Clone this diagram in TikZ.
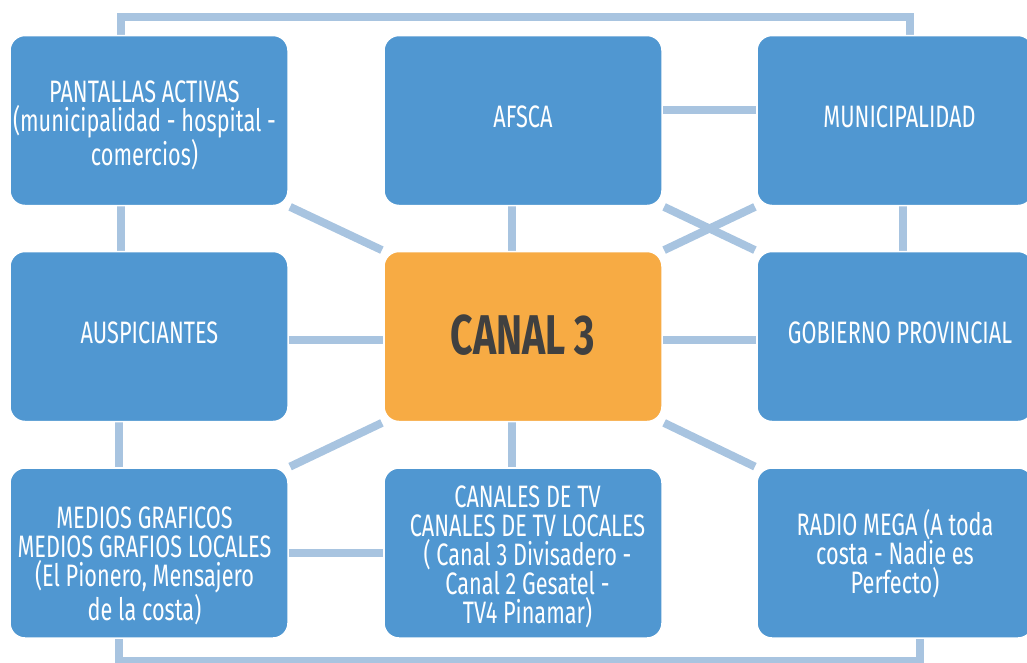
\documentclass[tikz,border=0pt]{standalone}
\usepackage{fontspec}
\setmainfont{Fira Sans}[FakeStretch=0.7]
\usetikzlibrary{calc}
\definecolor{boxblue}{RGB}{80,151,209}
\definecolor{boxorange}{RGB}{247,171,68}
\definecolor{connblue}{RGB}{168,196,224}
\definecolor{darktext}{RGB}{64,64,64}
\tikzset{
  box/.style={rectangle, rounded corners=15pt, fill=boxblue, draw=white, line width=1.5pt,
    inner sep=0pt, minimum width=278pt, minimum height=170pt},
  centerbox/.style={box, fill=boxorange},
  lbl/.style={text=white, align=center, inner sep=0pt, font=\fontsize{31}{29}\selectfont},
  centerlbl/.style={lbl, text=darktext, font=\fontsize{56}{60}\selectfont\bfseries},
  conn/.style={draw=connblue, line width=8pt},
  diag/.style={conn, shorten <=1.5pt, shorten >=1.5pt}
}
\begin{document}
\begin{tikzpicture}[x=1pt,y=-1pt]
\useasboundingbox (0,0) rectangle (1027,662);
\clip (0,0) rectangle (1027,662);
% boxes (positions)
\path
  (149,120.5) node[box, draw=none, fill=none] (pant) {}
  (523,120.5) node[box, draw=none, fill=none] (afsca) {}
  (895,120.5) node[box, minimum width=276pt, draw=none, fill=none] (muni) {}
  (149,336.5) node[box, draw=none, fill=none] (ausp) {}
  (523,336.5) node[box, draw=none, fill=none] (canal) {}
  (895,336.5) node[box, minimum width=276pt, draw=none, fill=none] (gob) {}
  (149,553) node[box, draw=none, fill=none] (medios) {}
  (523,553) node[box, draw=none, fill=none] (canales) {}
  (895,553) node[box, minimum width=276pt, draw=none, fill=none] (radio) {};
\coordinate (ftop) at (0,16.5);
\coordinate (fbot) at (0,661);
\coordinate (ptop) at ($(pant.north west)!0.4!(pant.north east)$);
\coordinate (mtop) at ($(muni.north west)!0.554!(muni.north east)$);
\coordinate (mbot) at ($(medios.south west)!0.394!(medios.south east)$);
\coordinate (rbot) at ($(radio.south west)!0.589!(radio.south east)$);
% frame lines
\draw[conn] (ptop) -- (ptop |- ftop) -| (mtop);
\draw[conn] (mbot) -- (mbot |- fbot) -| (rbot);
% verticals
\draw[conn] ($(pant.south west)!0.4!(pant.south east)$) -- ($(ausp.north west)!0.4!(ausp.north east)$);
\draw[conn] ($(ausp.south west)!0.394!(ausp.south east)$) -- ($(medios.north west)!0.394!(medios.north east)$);
\draw[conn] ($(afsca.south west)!0.462!(afsca.south east)$) -- ($(canal.north west)!0.462!(canal.north east)$);
\draw[conn] ($(canal.south west)!0.46!(canal.south east)$) -- ($(canales.north west)!0.46!(canales.north east)$);
\draw[conn] ($(muni.south west)!0.529!(muni.south east)$) -- ($(gob.north west)!0.529!(gob.north east)$);
% horizontals
\draw[conn] ($(afsca.north east)!0.44!(afsca.south east)$) -- ($(muni.north west)!0.44!(muni.south west)$);
\draw[conn] ($(ausp.north east)!0.52!(ausp.south east)$) -- ($(canal.north west)!0.52!(canal.south west)$);
\draw[conn] ($(canal.north east)!0.52!(canal.south east)$) -- ($(gob.north west)!0.52!(gob.south west)$);
\draw[conn] ($(medios.north east)!0.5!(medios.south east)$) -- ($(canales.north west)!0.5!(canales.south west)$);
% diagonals
\draw[diag] (pant.south east) -- (canal.north west);
\draw[diag] (medios.north east) -- (canal.south west);
\draw[diag] (canal.north east) -- (muni.south west);
\draw[diag] (afsca.south east) -- (gob.north west);
\draw[diag] (canal.south east) -- (radio.north west);
% visible boxes
\node[box] (pantB) at (pant) {};
\node[box] (afscaB) at (afsca) {};
\node[box, minimum width=276pt] (muniB) at (muni) {};
\node[box] (auspB) at (ausp) {};
\node[centerbox] (canalB) at (canal) {};
\node[box, minimum width=276pt] (gobB) at (gob) {};
\node[box] (mediosB) at (medios) {};
\node[box] (canalesB) at (canales) {};
\node[box, minimum width=276pt] (radioB) at (radio) {};
% texts
\node[lbl] (pantT) at ($(pant)+(-4.5,5)$) {PANTALLAS ACTIVAS\\(municipalidad - hospital -\\comercios)};
\node[lbl] (afscaT) at ($(afsca)+(0,-4)$) {AFSCA};
\node[lbl] (muniT) at ($(muni)+(4.5,-3.5)$) {MUNICIPALIDAD};
\node[lbl] (auspT) at ($(ausp)+(0.5,-4)$) {AUSPICIANTES};
\node[centerlbl] (canalT) at ($(canal)+(0,-1)$) {CANAL 3};
\node[lbl] (gobT) at ($(gob)+(5,-4)$) {GOBIERNO PROVINCIAL};
\node[lbl] (mediosT) at ($(medios)+(-4.5,13)$) {MEDIOS GRAFICOS\\MEDIOS GRAFIOS LOCALES\\(El Pionero, Mensajero\\de la costa)};
\node[lbl] (canalesT) at ($(canales)+(4.5,4)$) {CANALES DE TV\\CANALES DE TV LOCALES\\( Canal 3 Divisadero -\\Canal 2 Gesatel -\\TV4 Pinamar)};
\node[lbl] (radioT) at ($(radio)+(0,1)$) {RADIO MEGA (A toda\\costa - Nadie es\\Perfecto)};
\end{tikzpicture}
\end{document}
